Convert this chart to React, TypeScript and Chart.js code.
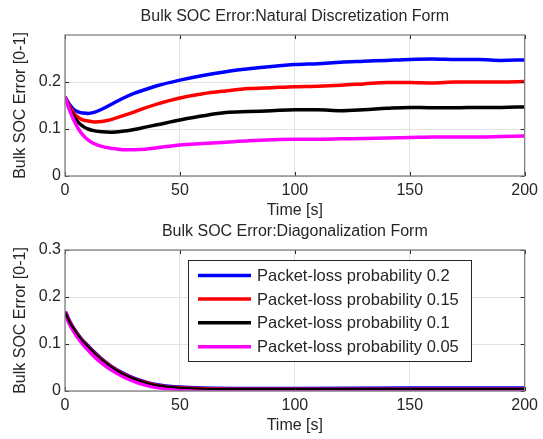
import React, { useEffect, useRef } from 'react';
import { Chart, registerables } from 'chart.js';

Chart.register(...registerables);

// ---------- data ----------
const timeTop = [0, 2, 4, 6, 8, 10, 13, 16, 20, 25, 30, 35, 40, 50, 60, 70, 80, 90, 100, 110, 120, 130, 140, 150, 160, 170, 180, 190, 200];
const blueTop = [0.168, 0.152, 0.141, 0.136, 0.134, 0.133, 0.136, 0.142, 0.152, 0.165, 0.176, 0.184, 0.192, 0.204, 0.214, 0.222, 0.228, 0.233, 0.237, 0.239, 0.242, 0.244, 0.246, 0.248, 0.249, 0.248, 0.248, 0.246, 0.247];
const redTop = [0.168, 0.148, 0.133, 0.124, 0.119, 0.117, 0.115, 0.116, 0.12, 0.128, 0.136, 0.145, 0.153, 0.166, 0.175, 0.181, 0.186, 0.188, 0.19, 0.191, 0.193, 0.196, 0.199, 0.199, 0.198, 0.2, 0.2, 0.2, 0.201];
const blackTop = [0.168, 0.143, 0.125, 0.113, 0.105, 0.1, 0.096, 0.094, 0.093, 0.095, 0.099, 0.104, 0.109, 0.119, 0.128, 0.135, 0.137, 0.139, 0.141, 0.141, 0.139, 0.141, 0.144, 0.146, 0.145, 0.145, 0.146, 0.146, 0.147];
const magentaTop = [0.168, 0.14, 0.117, 0.099, 0.086, 0.077, 0.068, 0.063, 0.059, 0.056, 0.056, 0.057, 0.06, 0.066, 0.069, 0.072, 0.075, 0.077, 0.078, 0.078, 0.079, 0.08, 0.081, 0.082, 0.083, 0.083, 0.083, 0.084, 0.085];

const timeBottom = [0, 2, 4, 6, 8, 10, 13, 16, 20, 25, 30, 35, 40, 50, 60, 80, 100, 150, 200];
const blueBottom = [0.168, 0.149, 0.133, 0.119, 0.107, 0.097, 0.082, 0.069, 0.054, 0.039, 0.028, 0.02, 0.014, 0.009, 0.007, 0.006, 0.006, 0.007, 0.007];
const redBottom = [0.168, 0.148, 0.132, 0.118, 0.106, 0.096, 0.081, 0.068, 0.053, 0.038, 0.027, 0.019, 0.013, 0.008, 0.006, 0.005, 0.005, 0.005, 0.005];
const blackBottom = [0.168, 0.147, 0.131, 0.117, 0.105, 0.095, 0.08, 0.067, 0.052, 0.037, 0.026, 0.018, 0.012, 0.007, 0.005, 0.004, 0.004, 0.004, 0.004];
const magentaBottom = [0.168, 0.145, 0.128, 0.113, 0.1, 0.089, 0.074, 0.061, 0.047, 0.033, 0.022, 0.014, 0.009, 0.005, 0.003, 0.003, 0.003, 0.003, 0.003];

const xTicks = [0, 50, 100, 150, 200];
const yTicksTop = [0, 0.1, 0.2];
const yTicksBottom = [0, 0.1, 0.2, 0.3];
const seriesColors = ['#0000ff', '#ff0000', '#000000', '#ff00ff'];
const legendLabels = [
  'Packet-loss probability 0.2',
  'Packet-loss probability 0.15',
  'Packet-loss probability 0.1',
  'Packet-loss probability 0.05',
];
const titleTop = 'Bulk SOC Error:Natural Discretization Form';
const titleBottom = 'Bulk SOC Error:Diagonalization Form';
const xTitle = 'Time [s]';
const yTitle = 'Bulk SOC Error [0-1]';

// ---------- styling ----------
const FONT = "'Liberation Sans', Arial, sans-serif";
const TEXT = '#262626';

function pts(t: number[], v: number[]) {
  return t.map((x, i) => ({ x, y: v[i] }));
}

function fmt(v: number) {
  return String(Math.round(v * 10) / 10);
}

function makeFramePlugin(title: string, titleY: number, showLegend: boolean) {
  return {
    id: 'frame' + title.length,
    afterDraw(chart: any) {
      const ctx = chart.ctx as CanvasRenderingContext2D;
      const { left, right, top, bottom } = chart.chartArea;
      ctx.save();
      // ticks (inward)
      ctx.strokeStyle = TEXT;
      ctx.lineWidth = 1;
      const xs = chart.scales.x;
      const ys = chart.scales.y;
      ctx.beginPath();
      xs.ticks.forEach((t: any) => {
        const px = Math.round(xs.getPixelForValue(t.value)) + 0.5;
        ctx.moveTo(px, bottom);
        ctx.lineTo(px, bottom - 4);
        ctx.moveTo(px, top);
        ctx.lineTo(px, top + 4);
      });
      ys.ticks.forEach((t: any) => {
        const py = Math.round(ys.getPixelForValue(t.value)) + 0.5;
        ctx.moveTo(left, py);
        ctx.lineTo(left + 4, py);
        ctx.moveTo(right, py);
        ctx.lineTo(right - 4, py);
      });
      ctx.stroke();
      // box
      ctx.strokeStyle = '#808080';
      ctx.lineWidth = 1.3;
      ctx.strokeRect(left, top, right - left, bottom - top);
      // title
      ctx.fillStyle = TEXT;
      ctx.font = `16px ${FONT}`;
      ctx.textAlign = 'center';
      ctx.textBaseline = 'middle';
      ctx.fillText(title, (left + right) / 2, titleY);
      // legend
      if (showLegend) {
        const lx = 188, ly = 41, lw = 283, lh = 101;
        ctx.fillStyle = '#ffffff';
        ctx.fillRect(lx, ly, lw, lh);
        ctx.strokeStyle = '#262626';
        ctx.lineWidth = 1;
        ctx.strokeRect(lx + 0.5, ly + 0.5, lw, lh);
        const rows = [56.5, 80, 103.7, 127.7];
        legendLabels.forEach((lab, i) => {
          ctx.strokeStyle = seriesColors[i];
          ctx.lineWidth = 3.5;
          ctx.beginPath();
          ctx.moveTo(198, rows[i]);
          ctx.lineTo(251, rows[i]);
          ctx.stroke();
          ctx.fillStyle = TEXT;
          ctx.font = `16.5px ${FONT}`;
          ctx.textAlign = 'left';
          ctx.textBaseline = 'middle';
          ctx.fillText(lab, 257, rows[i] + 1);
        });
      }
      ctx.restore();
    },
  };
}

function buildConfig(
  t: number[],
  series: number[][],
  yTicks: number[],
  orders: number[],
  widths: number[],
  padTop: number,
  padBottom: number,
  title: string,
  titleY: number,
  showLegend: boolean
): any {
  return {
    type: 'line',
    data: {
      datasets: series.map((s, i) => ({
        label: legendLabels[i],
        data: pts(t, s),
        borderColor: seriesColors[i],
        backgroundColor: seriesColors[i],
        borderWidth: widths[i],
        pointRadius: 0,
        cubicInterpolationMode: 'monotone',
        order: orders[i],
        fill: false,
      })),
    },
    options: {
      responsive: false,
      animation: false,
      devicePixelRatio: 1,
      layout: { padding: { top: padTop, right: 16, bottom: padBottom, left: 0 } },
      plugins: {
        legend: { display: false },
        title: { display: false },
        tooltip: { enabled: false },
      },
      scales: {
        x: {
          type: 'linear',
          min: 0,
          max: 200,
          afterFit: (s: any) => {
            s.height = 44;
          },
          afterBuildTicks: (s: any) => {
            s.ticks = xTicks.map((v) => ({ value: v }));
          },
          ticks: {
            color: TEXT,
            font: { family: FONT, size: 16 },
            padding: 5,
            maxRotation: 0,
            callback: (v: number) => fmt(v),
          },
          grid: { color: '#e3e3e3', drawTicks: false, lineWidth: 1 },
          border: { display: false },
          title: {
            display: true,
            text: xTitle,
            color: TEXT,
            font: { family: FONT, size: 16 },
            padding: { top: 0, bottom: 0 },
          },
        },
        y: {
          type: 'linear',
          min: 0,
          max: 0.3,
          afterFit: (s: any) => {
            s.width = 65;
          },
          afterBuildTicks: (s: any) => {
            s.ticks = yTicks.map((v) => ({ value: v }));
          },
          ticks: {
            color: TEXT,
            font: { family: FONT, size: 16 },
            padding: 4,
            callback: (v: number) => fmt(v),
          },
          grid: { color: '#e3e3e3', drawTicks: false, lineWidth: 1 },
          border: { display: false },
          title: {
            display: true,
            text: yTitle,
            color: TEXT,
            font: { family: FONT, size: 16 },
            padding: { top: 11, bottom: 0 },
          },
        },
      },
    },
    plugins: [makeFramePlugin(title, titleY, showLegend)],
  };
}

export default function App() {
  const topRef = useRef<HTMLCanvasElement>(null);
  const botRef = useRef<HTMLCanvasElement>(null);

  useEffect(() => {
    const c1 = new Chart(
      topRef.current as HTMLCanvasElement,
      buildConfig(
        timeTop,
        [blueTop, redTop, blackTop, magentaTop],
        yTicksTop,
        [3, 2, 1, 0],
        [3.5, 3.5, 3.5, 3.5],
        35,
        0,
        titleTop,
        16.5,
        false
      )
    );
    const c2 = new Chart(
      botRef.current as HTMLCanvasElement,
      buildConfig(
        timeBottom,
        [blueBottom, redBottom, blackBottom, magentaBottom],
        yTicksBottom,
        [2, 1, 0, 3],
        [3, 2.5, 2, 5],
        31,
        4,
        titleBottom,
        13,
        true
      )
    );
    return () => {
      c1.destroy();
      c2.destroy();
    };
  }, []);

  return (
    <div style={{ position: 'absolute', left: 0, top: 0, width: 543, height: 439, background: '#ffffff' }}>
      <canvas ref={topRef} width={543} height={220} style={{ position: 'absolute', left: 0, top: 0, width: 543, height: 220 }} />
      <canvas ref={botRef} width={543} height={220} style={{ position: 'absolute', left: 0, top: 219, width: 543, height: 220 }} />
    </div>
  );
}
